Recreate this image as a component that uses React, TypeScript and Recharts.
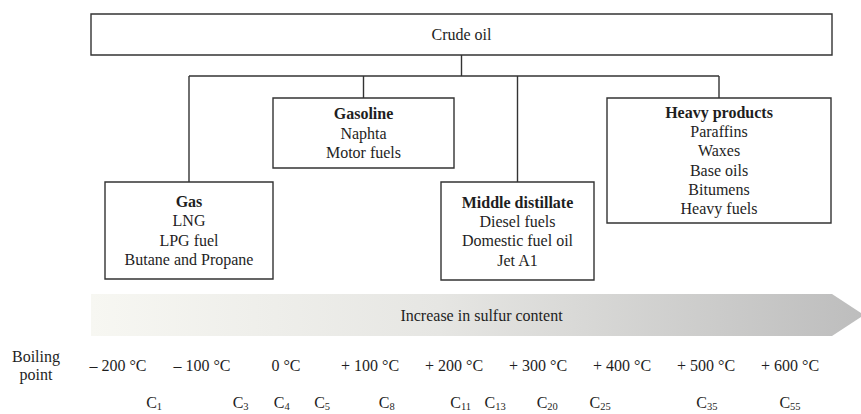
import { ComposedChart, XAxis, YAxis, ReferenceArea, ReferenceLine, Label, Scatter } from 'recharts'

// content
const rootName = 'Crude oil'
const fractionNames = ['Gas', 'Gasoline', 'Middle distillate', 'Heavy products']
const fractionProducts = [
  ['LNG', 'LPG fuel', 'Butane and Propane'],
  ['Naphta', 'Motor fuels'],
  ['Diesel fuels', 'Domestic fuel oil', 'Jet A1'],
  ['Paraffins', 'Waxes', 'Base oils', 'Bitumens', 'Heavy fuels'],
]
const temperatureTicks = [-200, -100, 0, 100, 200, 300, 400, 500, 600]
const carbonNumbers = [1, 3, 4, 5, 8, 11, 13, 20, 25, 35, 55]
const carbonBoilingPoints = [-157, -54, -5, 43, 120, 208, 249, 311, 374, 501, 600]
const arrowText = 'Increase in sulfur content'
const axisTitle = ['Boiling', 'point']

// diagram layout, in units of the hidden layout axes
const rootBox = { x1: 91, x2: 832, y1: 14, y2: 55 }
const fractionBoxes = [
  { x1: 105, x2: 273, y1: 182, y2: 279 },
  { x1: 273, x2: 454, y1: 98, y2: 168 },
  { x1: 441, x2: 594, y1: 182, y2: 280 },
  { x1: 607, x2: 831, y1: 98, y2: 223 },
]
const busY = 76
const arrowBox = { x1: 91, x2: 864, y1: 294, y2: 336 }

const FONT = '"Liberation Serif", "DejaVu Serif", serif'
const INK = '#1e1e1e'
const LINE = '#333'
const LH = 19.3
const TEMP_BASELINE = 371
const CARBON_BASELINE = 408

const carbonRows = carbonBoilingPoints.map((t, i) => ({ t, n: carbonNumbers[i], y: 0 }))
const tempRows = temperatureTicks.map((t) => ({ t, y: 0 }))

function BoxText({ viewBox, lines, boldFirst }: any) {
  const { x, y, width, height } = viewBox
  const cx = x + width / 2
  const top = y + height / 2 - ((lines.length - 1) * LH) / 2
  return (
    <text textAnchor="middle" fontFamily={FONT} fontSize={16} fill={INK}>
      {lines.map((l: string, i: number) => (
        <tspan key={i} x={cx} y={top + i * LH} dy="0.35em" fontWeight={boldFirst && i === 0 ? 'bold' : 'normal'}>
          {l}
        </tspan>
      ))}
    </text>
  )
}

function ArrowShape(props: any) {
  const { x, y, width, height } = props
  const head = 32
  const pts = [
    [x, y],
    [x + width - head, y],
    [x + width, y + height / 2],
    [x + width - head, y + height],
    [x, y + height],
  ]
    .map((p) => p.join(','))
    .join(' ')
  return (
    <g>
      <defs>
        <linearGradient id="sulfur" x1="0" y1="0" x2="1" y2="0">
          <stop offset="0%" stopColor="#f7f7f2" />
          <stop offset="45%" stopColor="#e6e6e3" />
          <stop offset="100%" stopColor="#bdbdbd" />
        </linearGradient>
      </defs>
      <polygon points={pts} fill="url(#sulfur)" />
    </g>
  )
}

const fmtTemp = (v: number) => (v < 0 ? `\u2013 ${-v} °C` : v === 0 ? '0 °C' : `+ ${v} °C`)

function TempTick({ x, payload }: any) {
  return (
    <text x={x} y={TEMP_BASELINE} textAnchor="middle" fontFamily={FONT} fontSize={16} fill={INK}>
      {fmtTemp(payload.value)}
    </text>
  )
}

function CarbonTick({ x, payload }: any) {
  const n = carbonNumbers[carbonBoilingPoints.indexOf(payload.value)]
  return (
    <text x={x} y={CARBON_BASELINE} textAnchor="middle" fontFamily={FONT} fontSize={16} fill={INK}>
      C
      <tspan fontSize={10.5} dy={2}>
        {n}
      </tspan>
    </text>
  )
}

const NoShape = () => <g />

export default function App() {
  return (
    <div>
      <style>{'body{margin:0;background:#fff}'}</style>
      <ComposedChart width={861} height={414} margin={{ top: 0, right: 0, bottom: 0, left: 0 }}>
        <XAxis xAxisId="L" type="number" dataKey="t" domain={[0, 861]} allowDataOverflow hide />
        <XAxis
          xAxisId="c"
          type="number"
          dataKey="t"
          domain={[-340.5, 684.5]}
          allowDataOverflow
          ticks={carbonBoilingPoints}
          interval={0}
          height={37}
          axisLine={false}
          tickLine={false}
          tick={<CarbonTick />}
        />
        <XAxis
          xAxisId="t"
          type="number"
          dataKey="t"
          domain={[-340.5, 684.5]}
          allowDataOverflow
          ticks={temperatureTicks}
          interval={0}
          height={37}
          axisLine={false}
          tickLine={false}
          tick={<TempTick />}
        >
          <Label
            content={() => (
              <text textAnchor="middle" fontFamily={FONT} fontSize={16} fill={INK}>
                {axisTitle.map((t, i) => (
                  <tspan key={i} x={36} y={TEMP_BASELINE - 9 + i * 18}>
                    {t}
                  </tspan>
                ))}
              </text>
            )}
          />
        </XAxis>
        <YAxis type="number" dataKey="y" domain={[0, 340]} allowDataOverflow reversed hide />

        <Scatter xAxisId="t" data={tempRows} dataKey="y" shape={<NoShape />} isAnimationActive={false} />
        <Scatter xAxisId="c" data={carbonRows} dataKey="y" shape={<NoShape />} isAnimationActive={false} />

        <ReferenceArea
          xAxisId="L"
          {...arrowBox}
          ifOverflow="visible"
          shape={<ArrowShape />}
          label={{ value: arrowText, position: 'center', fontFamily: FONT, fontSize: 16, fill: INK, dx: 4 }}
        />

        <ReferenceLine
          xAxisId="L"
          ifOverflow="visible"
          segment={[
            { x: (rootBox.x1 + rootBox.x2) / 2, y: rootBox.y2 },
            { x: (rootBox.x1 + rootBox.x2) / 2, y: busY },
          ]}
          stroke={LINE}
          strokeWidth={1.4}
        />
        <ReferenceLine
          xAxisId="L"
          ifOverflow="visible"
          segment={[
            { x: (fractionBoxes[0].x1 + fractionBoxes[0].x2) / 2, y: busY },
            { x: (fractionBoxes[3].x1 + fractionBoxes[3].x2) / 2, y: busY },
          ]}
          stroke={LINE}
          strokeWidth={1.4}
        />
        {fractionBoxes.map((b, i) => (
          <ReferenceLine
            key={'d' + i}
            xAxisId="L"
            ifOverflow="visible"
            segment={[
              { x: (b.x1 + b.x2) / 2, y: busY },
              { x: (b.x1 + b.x2) / 2, y: b.y1 },
            ]}
            stroke={LINE}
            strokeWidth={1.4}
          />
        ))}

        <ReferenceArea
          xAxisId="L"
          {...rootBox}
          ifOverflow="visible"
          fill="#fff"
          fillOpacity={1}
          stroke={LINE}
          strokeWidth={1.4}
        >
          <Label content={(p: any) => <BoxText viewBox={p.viewBox} lines={[rootName]} />} />
        </ReferenceArea>
        {fractionBoxes.map((b, i) => (
          <ReferenceArea
            key={'b' + i}
            xAxisId="L"
            {...b}
            ifOverflow="visible"
            fill="#fff"
            fillOpacity={1}
            stroke={LINE}
            strokeWidth={1.4}
          >
            <Label
              content={(p: any) => (
                <BoxText viewBox={p.viewBox} lines={[fractionNames[i], ...fractionProducts[i]]} boldFirst />
              )}
            />
          </ReferenceArea>
        ))}
      </ComposedChart>
    </div>
  )
}
